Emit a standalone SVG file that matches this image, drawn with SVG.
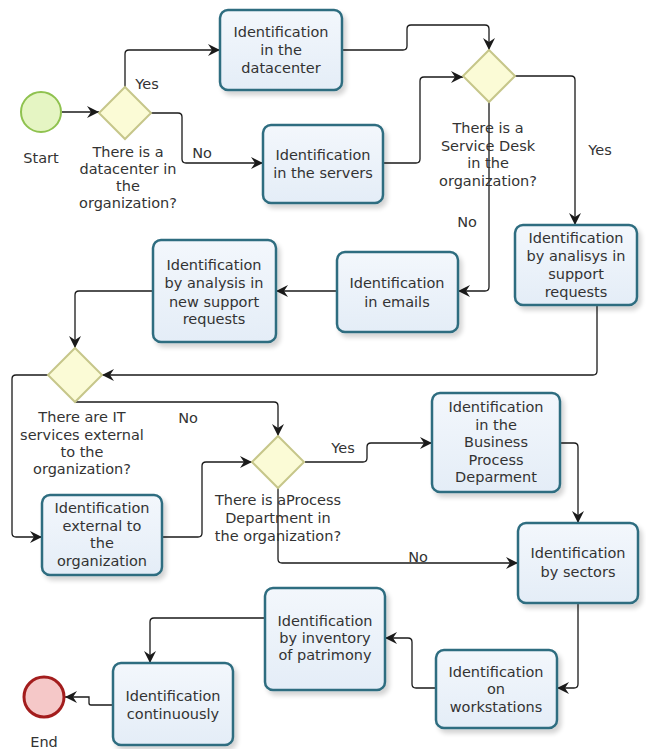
<svg xmlns="http://www.w3.org/2000/svg" width="646" height="749" viewBox="0 0 646 749">
<defs>
<linearGradient id="boxg" x1="0" y1="0" x2="0" y2="1">
<stop offset="0" stop-color="#f3f7fc"/>
<stop offset="1" stop-color="#e4edf7"/>
</linearGradient>
<filter id="sh" x="-10%" y="-10%" width="130%" height="130%">
<feGaussianBlur in="SourceAlpha" stdDeviation="2.5"/>
<feOffset dx="3" dy="4" result="b"/>
<feComponentTransfer><feFuncA type="linear" slope="0.18"/></feComponentTransfer>
<feMerge><feMergeNode/><feMergeNode in="SourceGraphic"/></feMerge>
</filter>
<marker id="arr" markerUnits="userSpaceOnUse" markerWidth="13" markerHeight="12" refX="12" refY="6" orient="auto">
<path d="M0,0 L12,6 L0,12 L4,6 z" fill="#1a1a1a"/>
</marker>
</defs>
<style>
.box{fill:url(#boxg);stroke:#2f6d80;stroke-width:2.5;filter:url(#sh)}
.gw{fill:#fbfbd6;stroke:#c6c68a;stroke-width:2}
.t{font-family:"DejaVu Sans",Verdana,sans-serif;font-size:14.5px;fill:#333;text-anchor:middle}
.c{fill:none;stroke:#1a1a1a;stroke-width:1.3;marker-end:url(#arr)}
</style>
<rect width="646" height="749" fill="#ffffff"/>

<g id="connectors">
<path class="c" d="M62,112 H99"/>
<path class="c" d="M125,87 V54 Q125,50 129,50 H220"/>
<path class="c" d="M151,113 H178 Q182,113 182,117 V159 Q182,163 186,163 H263"/>
<path class="c" d="M342,50 H403 Q407,50 407,46 V29 Q407,25 411,25 H485 Q489,25 489,29 V50"/>
<path class="c" d="M383,163 H416 Q420,163 420,159 V81 Q420,77 424,77 H463"/>
<path class="c" d="M515,76 H571 Q575,76 575,80 V225"/>
<path class="c" d="M489,102 V287 Q489,291 485,291 H458"/>
<path class="c" d="M337,291 H276"/>
<path class="c" d="M153,291 H79 Q75,291 75,295 V348"/>
<path class="c" d="M597,305 V371 Q597,375 593,375 H102"/>
<path class="c" d="M48,375 H16 Q12,375 12,379 V533 Q12,537 16,537 H42"/>
<path class="c" d="M75,402 H274 Q278,402 278,406 V436"/>
<path class="c" d="M162,537 H198 Q202,537 202,533 V466 Q202,462 206,462 H252"/>
<path class="c" d="M305,462 H363 Q367,462 367,458 V447 Q367,443 371,443 H432"/>
<path class="c" d="M278,488 V559 Q278,563 282,563 H518"/>
<path class="c" d="M560,443 H574 Q578,443 578,447 V523"/>
<path class="c" d="M578,603 V684 Q578,688 574,688 H557"/>
<path class="c" d="M436,688 H416 Q412,688 412,684 V642 Q412,638 408,638 H385"/>
<path class="c" d="M265,618 H154 Q150,618 150,622 V663"/>
<path class="c" d="M113,705 H91 Q89,705 89,703 V697 H65"/>
<text class="t" x="147" y="89">Yes</text>
<text class="t" x="202" y="158">No</text>
<text class="t" x="600" y="155">Yes</text>
<text class="t" x="467" y="227">No</text>
<text class="t" x="188" y="423">No</text>
<text class="t" x="343" y="453">Yes</text>
<text class="t" x="418" y="562">No</text>
</g>

<g id="start">
<circle cx="41" cy="112" r="20" fill="#e5f5c3" stroke="#8fc24f" stroke-width="2"/>
<text class="t" x="41" y="163">Start</text>
</g>

<g id="gw1">
<polygon class="gw" points="125,87 151,113 125,139 99,113"/>
<text class="t" x="128" y="157">There is a</text>
<text class="t" x="128" y="174">datacenter in</text>
<text class="t" x="128" y="191">the</text>
<text class="t" x="128" y="208">organization?</text>
</g>

<g id="n-datacenter">
<rect class="box" x="220" y="10" width="122" height="80" rx="8"/>
<text class="t" x="281" y="37">Identification</text>
<text class="t" x="281" y="55">in the</text>
<text class="t" x="281" y="73">datacenter</text>
</g>

<g id="n-servers">
<rect class="box" x="263" y="125" width="120" height="78" rx="8"/>
<text class="t" x="323" y="160">Identification</text>
<text class="t" x="323" y="178">in the servers</text>
</g>

<g id="gw2">
<polygon class="gw" points="489,50 515,76 489,102 463,76"/>
<text class="t" x="488" y="133">There is a</text>
<text class="t" x="488" y="151">Service Desk</text>
<text class="t" x="488" y="168">in the</text>
<text class="t" x="488" y="186">organization?</text>
</g>

<g id="n-analisys">
<rect class="box" x="515" y="225" width="122" height="80" rx="8"/>
<text class="t" x="576" y="243">Identification</text>
<text class="t" x="576" y="261">by analisys in</text>
<text class="t" x="576" y="279">support</text>
<text class="t" x="576" y="297">requests</text>
</g>

<g id="n-emails">
<rect class="box" x="337" y="252" width="121" height="80" rx="8"/>
<text class="t" x="397" y="288">Identification</text>
<text class="t" x="397" y="307">in emails</text>
</g>

<g id="n-newsupport">
<rect class="box" x="153" y="240" width="123" height="102" rx="8"/>
<text class="t" x="214" y="270">Identification</text>
<text class="t" x="214" y="288">by analysis in</text>
<text class="t" x="214" y="307">new support</text>
<text class="t" x="214" y="324">requests</text>
</g>

<g id="gw3">
<polygon class="gw" points="75,348 102,375 75,402 48,375"/>
<text class="t" x="82" y="422">There are IT</text>
<text class="t" x="82" y="440">services external</text>
<text class="t" x="82" y="457">to the</text>
<text class="t" x="82" y="474">organization?</text>
</g>

<g id="n-external">
<rect class="box" x="42" y="495" width="120" height="80" rx="8"/>
<text class="t" x="102" y="513">Identification</text>
<text class="t" x="102" y="531">external to</text>
<text class="t" x="102" y="548">the</text>
<text class="t" x="102" y="566">organization</text>
</g>

<g id="gw4">
<polygon class="gw" points="278,436 304,462 278,488 252,462"/>
<text class="t" x="278" y="505">There is aProcess</text>
<text class="t" x="278" y="523">Department in</text>
<text class="t" x="278" y="541">the organization?</text>
</g>

<g id="n-business">
<rect class="box" x="432" y="393" width="128" height="99" rx="8"/>
<text class="t" x="496" y="412">Identification</text>
<text class="t" x="496" y="430">in the</text>
<text class="t" x="496" y="447">Business</text>
<text class="t" x="496" y="465">Process</text>
<text class="t" x="496" y="482">Deparment</text>
</g>

<g id="n-sectors">
<rect class="box" x="518" y="523" width="120" height="80" rx="8"/>
<text class="t" x="578" y="558">Identification</text>
<text class="t" x="578" y="577">by sectors</text>
</g>

<g id="n-workstations">
<rect class="box" x="436" y="650" width="121" height="78" rx="8"/>
<text class="t" x="496" y="677">Identification</text>
<text class="t" x="496" y="694">on</text>
<text class="t" x="496" y="712">workstations</text>
</g>

<g id="n-inventory">
<rect class="box" x="265" y="588" width="120" height="102" rx="8"/>
<text class="t" x="325" y="626">Identification</text>
<text class="t" x="325" y="643">by inventory</text>
<text class="t" x="325" y="660">of patrimony</text>
</g>

<g id="n-continuously">
<rect class="box" x="113" y="663" width="120" height="82" rx="8"/>
<text class="t" x="173" y="701">Identification</text>
<text class="t" x="173" y="719">continuously</text>
</g>

<g id="end">
<circle cx="44" cy="697" r="20" fill="#f5c8c8" stroke="#a31d1d" stroke-width="3"/>
<text class="t" x="44" y="747">End</text>
</g>
</svg>
